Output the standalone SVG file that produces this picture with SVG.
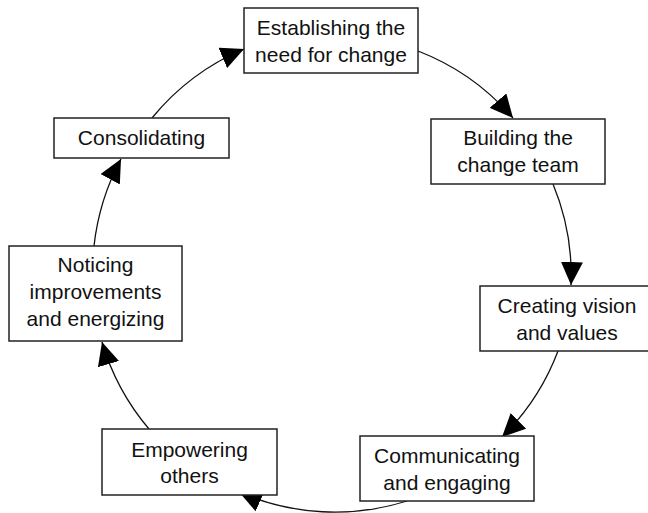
<svg xmlns="http://www.w3.org/2000/svg" width="648" height="513" viewBox="0 0 648 513">
<style>
.box{fill:#fff;stroke:#222;stroke-width:1.5}
.lbl{font-family:"Liberation Sans",Arial,sans-serif;font-size:21px;fill:#111;text-anchor:middle}
.con{fill:none;stroke:#111;stroke-width:1.3;marker-end:url(#arr)}
</style>
<defs>
<marker id="arr" markerUnits="userSpaceOnUse" markerWidth="23" markerHeight="22" viewBox="0 0 23 22" refX="23" refY="11" orient="auto">
<path d="M0,0 L23,11 L0,22 z" fill="#000"/>
</marker>
</defs>
<rect width="648" height="513" fill="#fff"/>
<g id="connectors">
<path class="con" d="M152,118 A239,239 0 0 1 244,49"/>
<path class="con" d="M418,51 A239,239 0 0 1 513,118"/>
<path class="con" d="M553,184 A239,239 0 0 1 571,285"/>
<path class="con" d="M558,351 A239,239 0 0 1 502,437"/>
<path class="con" d="M407,501 A239,239 0 0 1 239,492"/>
<path class="con" d="M149,429 A239,239 0 0 1 102,342"/>
<path class="con" d="M94,246 A239,239 0 0 1 121,159"/>
</g>
<g id="n1">
<rect class="box" x="244" y="8" width="174" height="65"/>
<text class="lbl" x="331" y="35">Establishing the</text>
<text class="lbl" x="331" y="62">need for change</text>
</g>
<g id="n2">
<rect class="box" x="431" y="119" width="174" height="65"/>
<text class="lbl" x="518" y="145">Building the</text>
<text class="lbl" x="518" y="172">change team</text>
</g>
<g id="n3">
<rect class="box" x="480" y="286" width="174" height="65"/>
<text class="lbl" x="567" y="313">Creating vision</text>
<text class="lbl" x="567" y="340">and values</text>
</g>
<g id="n4">
<rect class="box" x="360" y="436" width="174" height="65"/>
<text class="lbl" x="447" y="463">Communicating</text>
<text class="lbl" x="447" y="490">and engaging</text>
</g>
<g id="n5">
<rect class="box" x="102" y="429" width="175" height="66"/>
<text class="lbl" x="189.5" y="457">Empowering</text>
<text class="lbl" x="189.5" y="483">others</text>
</g>
<g id="n6">
<rect class="box" x="9" y="246" width="173" height="95"/>
<text class="lbl" x="95.5" y="272">Noticing</text>
<text class="lbl" x="95.5" y="299">improvements</text>
<text class="lbl" x="95.5" y="326">and energizing</text>
</g>
<g id="n7">
<rect class="box" x="54" y="118" width="175" height="40"/>
<text class="lbl" x="141.5" y="145">Consolidating</text>
</g>
</svg>
